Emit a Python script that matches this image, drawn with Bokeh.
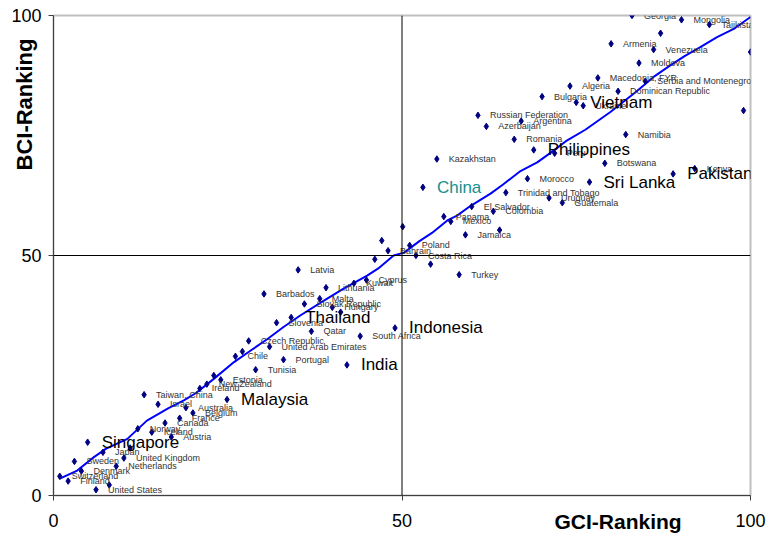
from bokeh.plotting import figure
from bokeh.models import Span, ColumnDataSource, Range1d, FixedTicker, Title, LinearAxis
from bokeh.core.properties import value
from bokeh.embed import file_html
from bokeh.resources import INLINE

# ---- data: GCI ranking (x) vs BCI ranking (y) ----
countries = [
    "Switzerland", "Finland", "Sweden", "Denmark", "Singapore", "United States", "Japan", "",
    "Netherlands", "United Kingdom", "", "Norway", "Taiwan, China", "Iceland", "Israel", "Canada",
    "Austria", "France", "Australia", "Belgium", "Ireland", "New Zealand", "", "Estonia",
    "Malaysia", "Chile", "", "Czech Republic", "Tunisia", "Barbados", "United Arab Emirates",
    "Slovenia", "Portugal", "Thailand", "Latvia", "Slovak Republic", "Qatar", "Malta",
    "Lithuania", "Hungary", "", "India", "Kuwait", "South Africa", "Cyprus", "", "", "Bahrain",
    "Indonesia", "", "Poland", "Costa Rica", "China", "", "Kazakhstan", "Panama", "Mexico",
    "Turkey", "Jamaica", "El Salvador", "Russian Federation", "Azerbaijan", "Colombia", "",
    "Trinidad and Tobago", "Romania", "Argentina", "Morocco", "Philippines", "Bulgaria",
    "Uruguay", "Peru", "Guatemala", "Algeria", "Vietnam", "Ukraine", "Sri Lanka",
    "Macedonia, FYR", "Botswana", "Armenia", "Dominican Republic", "Namibia", "Georgia",
    "Moldova", "Serbia and Montenegro", "Venezuela", "", "Pakistan", "Mongolia", "Kenya",
    "Tajikistan", "", "",
]
gci_rank = [
    0.9, 2.1, 3.0, 4.0, 4.9, 6.1, 7.1, 8.0,
    9.0, 10.1, 11.0, 12.1, 13.0, 14.1, 15.0, 16.0,
    16.9, 18.1, 19.0, 20.0, 21.0, 22.0, 23.0, 24.0,
    24.9, 26.1, 27.1, 28.0, 29.0, 30.2, 31.0,
    32.0, 33.0, 34.1, 35.1, 36.0, 37.0, 38.2,
    39.1, 40.0, 41.2, 42.1, 43.1, 44.0, 44.9, 46.1, 47.1, 48.0,
    49.0, 50.1, 51.1, 52.0, 53.0, 54.1, 55.0, 56.0, 57.0,
    58.2, 59.1, 60.0, 60.9, 62.1, 63.1, 64.0,
    64.9, 66.1, 67.1, 68.0, 68.9, 70.1,
    71.1, 71.9, 73.0, 74.1, 75.0, 76.0, 76.9,
    78.1, 79.1, 80.0, 81.0, 82.1, 83.0,
    84.0, 84.9, 86.1, 87.1, 88.9, 90.1, 92.0,
    94.1, 99.0, 100.0,
]
bci_rank = [
    4.0, 3.0, 7.1, 5.1, 11.1, 1.2, 9.0, 2.2,
    6.1, 7.8, 9.9, 13.9, 21.0, 13.2, 19.0, 15.1,
    12.2, 16.1, 18.3, 17.2, 22.3, 23.2, 25.0, 24.1,
    20.0, 29.0, 30.0, 32.2, 26.2, 42.0, 31.0,
    36.0, 28.3, 37.1, 47.0, 39.9, 34.2, 41.0,
    43.3, 39.2, 38.2, 27.2, 44.2, 33.2, 44.9, 49.2, 53.1, 51.0,
    34.9, 56.0, 52.1, 50.0, 64.2, 48.2, 70.1, 58.1, 57.1,
    46.0, 54.3, 60.2, 79.2, 76.9, 59.2, 55.3,
    63.1, 74.2, 78.0, 66.0, 72.0, 83.1,
    62.0, 71.3, 61.0, 85.3, 81.9, 81.2, 65.3,
    87.0, 69.2, 94.1, 84.2, 75.2, 100.0,
    90.1, 86.3, 92.9, 96.3, 67.0, 99.1, 68.1,
    98.1, 80.2, 92.4,
]
highlighted = ["Singapore", "Malaysia", "Thailand", "India", "Indonesia",
               "Philippines", "Vietnam", "Sri Lanka", "Pakistan"]
china = ["China"]

# trend line
trend_x = [0.9, 3.4, 5.8, 7.5, 10.6, 13.4, 16.5, 18.7, 20.4, 23.0, 25.9, 28.3, 30.7, 33.0,
           35.4, 38.8, 41.5, 45.0, 46.6, 48.8, 50.3, 52.5, 54.3, 56.5, 57.9, 59.8, 62.7,
           64.5, 67.0, 69.4, 71.8, 73.7, 76.3, 79.9, 83.5, 86.1, 88.5, 90.6, 92.8, 95.2,
           97.6, 100.0]
trend_y = [3.5, 5.2, 8.0, 9.7, 11.8, 15.6, 18.2, 19.8, 21.3, 24.3, 27.8, 30.2, 32.6, 35.1,
           37.5, 40.6, 43.0, 45.8, 47.3, 50.0, 50.6, 53.0, 54.7, 57.3, 58.3, 60.3, 62.9,
           64.8, 67.6, 69.4, 71.9, 74.0, 76.2, 79.9, 84.0, 87.2, 89.6, 91.6, 93.4, 95.5,
           97.2, 99.7]

ticks = [0, 50, 100]
x_title = "GCI-Ranking"
x_title_at = 81          # where the x title sits along the axis
y_title = "BCI-Ranking"

FONT = "Liberation Sans"

p = figure(width=767, height=537, x_range=Range1d(0, 100), y_range=Range1d(0, 100),
           output_backend="svg", toolbar_location=None, x_axis_location=None,
           min_border_left=53, min_border_right=17, min_border_top=15, min_border_bottom=42)
p.background_fill_color = "white"
p.border_fill_color = "white"
p.outline_line_color = "#c0c0c0"
p.outline_line_width = 2
p.grid.visible = False

# x axis 1: axis line, tick marks (as minor ticks) and the bold title as its only label
xa = LinearAxis(ticker=FixedTicker(ticks=[x_title_at], minor_ticks=ticks),
                major_label_overrides={x_title_at: x_title})
xa.axis_line_color = "#404040"
xa.major_tick_line_color = None
xa.major_tick_out = 0
xa.major_tick_in = 0
xa.minor_tick_line_color = "#404040"
xa.minor_tick_out = 5
xa.minor_tick_in = 0
xa.major_label_standoff = 9
xa.major_label_text_font = FONT
xa.major_label_text_font_size = "21px"
xa.major_label_text_font_style = "bold"
xa.major_label_text_color = "black"
p.add_layout(xa, "below")

# x axis 2: the numeric tick labels on the same row
xb = LinearAxis(ticker=FixedTicker(ticks=ticks))
xb.axis_line_color = None
xb.major_tick_line_color = None
xb.minor_tick_line_color = None
xb.major_tick_out = 0
xb.major_tick_in = 0
xb.major_label_standoff = -22
xb.major_label_text_font = FONT
xb.major_label_text_font_size = "18px"
xb.major_label_text_color = "black"
p.add_layout(xb, "below")

ya = p.yaxis[0]
ya.ticker = FixedTicker(ticks=ticks)
ya.minor_tick_line_color = None
ya.major_tick_in = 0
ya.major_tick_out = 5
ya.axis_line_color = "#404040"
ya.major_tick_line_color = "#404040"
ya.major_label_text_font = FONT
ya.major_label_text_font_size = "18px"
ya.major_label_text_color = "black"
ya.major_label_standoff = 7

p.add_layout(Span(location=50, dimension="height", line_color="black", line_width=1))
p.add_layout(Span(location=50, dimension="width", line_color="black", line_width=1))

p.line(trend_x, trend_y, line_color="#0000ff", line_width=2)

src = ColumnDataSource(dict(x=gci_rank, y=bci_rank, name=countries))
p.scatter("x", "y", source=src, marker="diamond", size=6.5, color="#000080")

small = dict(x=[], y=[], t=[])
big = dict(x=[], y=[], t=[])
cn = dict(x=[], y=[], t=[])
for n, xv, yv in zip(countries, gci_rank, bci_rank):
    if not n:
        continue
    d = big if n in highlighted else cn if n in china else small
    d["x"].append(xv)
    d["y"].append(yv)
    d["t"].append(n)

p.text(x=small["x"], y=small["y"], text=small["t"], x_offset=12, text_baseline="middle",
       text_font=value(FONT), text_font_size="9px", text_color="#333333")
p.text(x=big["x"], y=big["y"], text=big["t"], x_offset=14, text_baseline="middle",
       text_font=value(FONT), text_font_size="17px", text_color="black")
p.text(x=cn["x"], y=cn["y"], text=cn["t"], x_offset=14, text_baseline="middle",
       text_font=value(FONT), text_font_size="17px", text_color="#168f8f")

p.add_layout(Title(text=y_title, align="left", offset=325, standoff=-57,
                   text_font=FONT, text_font_size="22px", text_font_style="bold",
                   text_color="black"), "left")

open("out.html", "w").write(file_html(p, INLINE))
